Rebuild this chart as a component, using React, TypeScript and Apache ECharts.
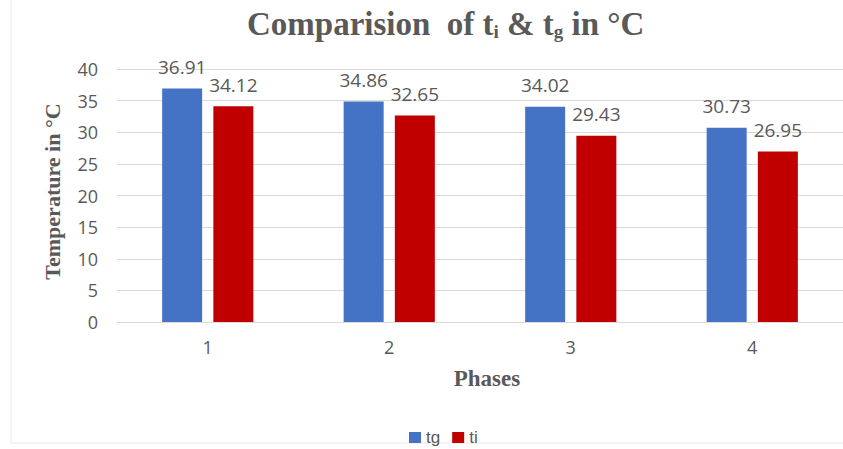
import React, { useEffect, useRef } from "react";
import * as echarts from "echarts";

const categories = ["1", "2", "3", "4"];
const tgValues = [36.91, 34.86, 34.02, 30.73];
const tiValues = [34.12, 32.65, 29.43, 26.95];
const yTicks = { min: 0, max: 40, interval: 5 };

export default function App() {
  const ref = useRef<HTMLDivElement>(null);
  useEffect(() => {
    if (!ref.current) return;
    const chart = echarts.init(ref.current, null, { renderer: "svg" });
    const labelStyle = {
      show: true,
      position: "top" as const,
      distance: 12,
      color: "#595959",
      fontSize: 19,
      fontFamily: "Open Sans",
    };
    chart.setOption({
      animation: false,
      backgroundColor: "#ffffff",
      title: {
        left: 242,
        top: 1,
        text: "Comparision  of t{sub|i} & t{sub|g} in °C",
        textStyle: {
          fontFamily: "Liberation Serif",
          fontWeight: "bold",
          fontSize: 33,
          color: "#595959",
          rich: {
            sub: {
              fontFamily: "Liberation Serif",
              fontWeight: "bold",
              fontSize: 19,
              color: "#595959",
              verticalAlign: "bottom",
              padding: [16, 0, 0, 0],
            },
          },
        },
      },
      legend: {
        top: 424,
        left: 404,
        itemWidth: 12,
        itemHeight: 11,
        itemGap: 12,
        icon: "rect",
        textStyle: { color: "#595959", fontSize: 17, fontFamily: "Liberation Sans" },
        data: ["tg", "ti"],
      },
      grid: { left: 117, top: 69, width: 733, height: 253 },
      xAxis: {
        type: "category",
        data: categories,
        name: "Phases",
        nameLocation: "middle",
        nameGap: 45,
        nameTextStyle: {
          fontFamily: "Liberation Serif",
          fontWeight: "bold",
          fontSize: 23,
          color: "#595959",
          padding: [0, 0, 0, 14],
        },
        axisLine: { show: true, lineStyle: { color: "#d9d9d9" } },
        axisTick: { show: false },
        axisLabel: { color: "#595959", fontSize: 18, fontFamily: "Open Sans", margin: 16 },
      },
      yAxis: {
        type: "value",
        min: yTicks.min,
        max: yTicks.max,
        interval: yTicks.interval,
        name: "Temperature in °C",
        nameLocation: "middle",
        nameGap: 54,
        nameTextStyle: {
          fontFamily: "Liberation Serif",
          fontWeight: "bold",
          fontSize: 22,
          color: "#595959",
          padding: [0, 0, 0, 8],
        },
        axisLine: { show: false },
        axisTick: { show: false },
        axisLabel: { color: "#595959", fontSize: 18, fontFamily: "Open Sans", margin: 19 },
        splitLine: { lineStyle: { color: "#d9d9d9" } },
      },
      series: [
        {
          name: "tg",
          type: "bar",
          data: tgValues,
          barWidth: 40,
          barGap: "28%",
          itemStyle: { color: "#4472C4" },
          label: labelStyle,
        },
        {
          name: "ti",
          type: "bar",
          data: tiValues,
          barWidth: 40,
          itemStyle: { color: "#C00000" },
          label: labelStyle,
        },
      ],
      graphic: [
        {
          type: "rect",
          shape: { x: 11, y: -2, width: 840, height: 445 },
          style: { fill: "none", stroke: "#e8e8e8", lineWidth: 1 },
          silent: true,
        },
      ],
    });
    return () => chart.dispose();
  }, []);
  return (
    <div
      ref={ref}
      style={{ position: "fixed", left: 0, top: 0, width: 843, height: 449 }}
    />
  );
}
